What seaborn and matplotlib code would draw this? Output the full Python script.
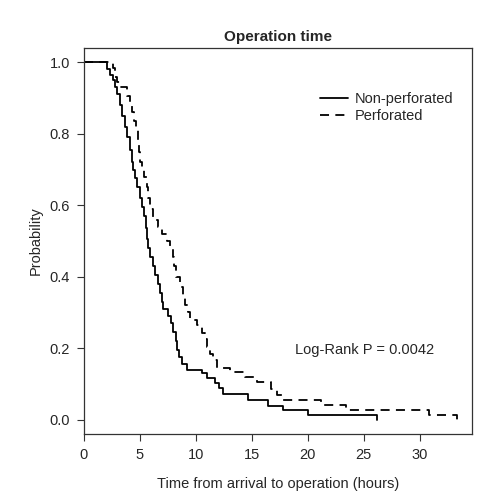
import matplotlib
matplotlib.use("Agg")
import matplotlib.pyplot as plt
import seaborn as sns
import pandas as pd

# Kaplan-Meier step points (time in hours, survival)
non_perf_time = [0, 2.05, 2.3, 2.6, 2.8, 3.0, 3.2, 3.4, 3.7, 3.9, 4.1, 4.3, 4.4, 4.6, 4.75,
                 5.0, 5.2, 5.35, 5.55, 5.65, 5.75, 5.95, 6.2, 6.4, 6.6, 6.8, 7.0, 7.1, 7.5,
                 7.8, 8.0, 8.2, 8.35, 8.5, 8.8, 9.2, 10.6, 11.0, 11.7, 12.1, 12.4, 14.7,
                 16.5, 17.8, 20.0, 26.2]
non_perf_surv = [1.0, 0.98, 0.965, 0.95, 0.93, 0.91, 0.88, 0.85, 0.82, 0.79, 0.755, 0.72, 0.70,
                 0.675, 0.65, 0.62, 0.595, 0.57, 0.535, 0.505, 0.48, 0.455, 0.43, 0.405, 0.38,
                 0.355, 0.33, 0.31, 0.29, 0.27, 0.245, 0.22, 0.195, 0.175, 0.155, 0.14, 0.13,
                 0.117, 0.103, 0.09, 0.072, 0.056, 0.038, 0.028, 0.012, 0.0]

perf_time = [0, 2.6, 2.8, 3.0, 3.2, 3.85, 4.1, 4.3, 4.5, 4.65, 4.8, 4.95, 5.05, 5.2, 5.4,
             5.6, 5.75, 5.9, 6.2, 6.6, 7.0, 7.4, 7.7, 8.0, 8.1, 8.2, 8.6, 8.9, 9.05, 9.3,
             9.5, 10.1, 10.6, 10.8, 11.0, 11.3, 11.5, 11.9, 13.1, 14.4, 15.5, 16.7, 17.3,
             17.7, 21.2, 23.4, 30.8, 33.3]
perf_surv = [1.0, 0.985, 0.96, 0.945, 0.93, 0.905, 0.88, 0.86, 0.835, 0.81, 0.78, 0.75, 0.72,
             0.70, 0.68, 0.65, 0.62, 0.59, 0.56, 0.54, 0.52, 0.50, 0.483, 0.455, 0.43, 0.40,
             0.37, 0.345, 0.32, 0.30, 0.28, 0.265, 0.243, 0.225, 0.204, 0.185, 0.168, 0.145,
             0.134, 0.12, 0.106, 0.086, 0.07, 0.056, 0.042, 0.028, 0.014, 0.0]

x_ticks = [0, 5, 10, 15, 20, 25, 30]
y_ticks = [0.0, 0.2, 0.4, 0.6, 0.8, 1.0]

sns.set_style("white")
plt.rcParams["font.family"] = ["Liberation Sans", "DejaVu Sans"]

fig = plt.figure(figsize=(4.96, 5.0), dpi=100)
ax = fig.add_axes([0.169, 0.132, 0.783, 0.772])

df1 = pd.DataFrame({"time": non_perf_time, "surv": non_perf_surv})
df2 = pd.DataFrame({"time": perf_time, "surv": perf_surv})

sns.lineplot(data=df1, x="time", y="surv", ax=ax, color="black", linewidth=1.3,
             drawstyle="steps-post", estimator=None, sort=False, label="Non-perforated")
sns.lineplot(data=df2, x="time", y="surv", ax=ax, color="black", linewidth=1.3,
             drawstyle="steps-post", estimator=None, sort=False, label="Perforated",
             dashes=False)
ax.lines[1].set_dashes((5, 3.5))

ax.set_xlim(0, 34.7)
ax.set_ylim(-0.04, 1.04)
ax.set_xticks(x_ticks)
ax.set_yticks(y_ticks)
ax.set_xticklabels([str(t) for t in x_ticks])
ax.set_yticklabels([f"{t:.1f}" for t in y_ticks])
ax.tick_params(axis="both", direction="out", length=5, width=0.8, color="#333333",
               labelsize=10.5, bottom=True, left=True, pad=5)
for sp in ax.spines.values():
    sp.set_color("#333333")
    sp.set_linewidth(0.9)

ax.set_xlabel("Time from arrival to operation (hours)", fontsize=10.5, labelpad=11)
ax.set_ylabel("Probability", fontsize=10.5, labelpad=5)
ax.set_title("Operation time", fontsize=11, fontweight="bold", pad=5)

leg = ax.legend(loc="upper left", bbox_to_anchor=(0.575, 0.92), frameon=False,
                fontsize=10.5, handlelength=1.9, handletextpad=0.45, labelspacing=0.2)
for h in leg.get_lines():
    h.set_linewidth(1.3)
leg.get_lines()[1].set_dashes((5, 3.5))

ax.text(25.1, 0.196, "Log-Rank P = 0.0042", fontsize=10.5, ha="center", va="center")

fig.savefig("out.png", dpi=100)
